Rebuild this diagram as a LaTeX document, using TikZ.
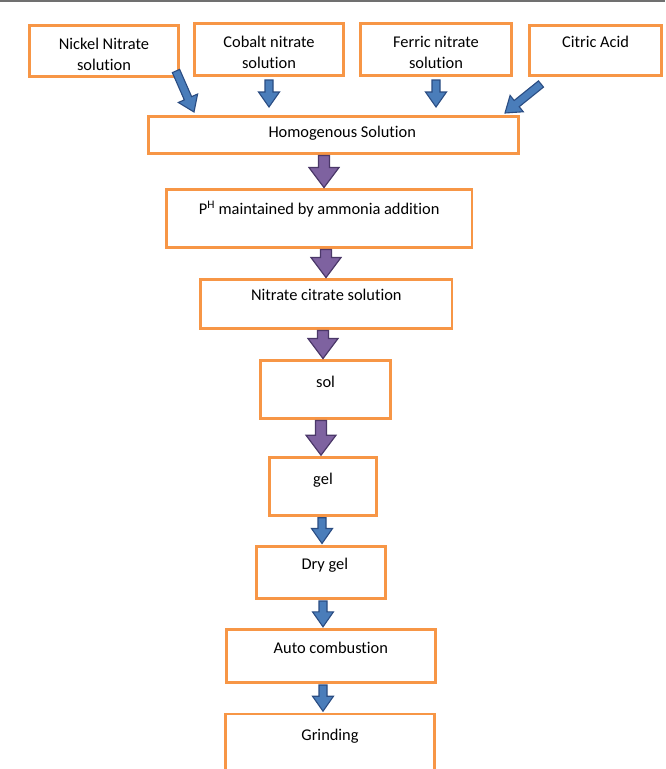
\documentclass[tikz,border=0pt]{standalone}
\usepackage{fontspec}
\setmainfont{Carlito}[Ligatures=NoCommon]
\usetikzlibrary{calc}

\tikzset{
  box/.style={draw=boxOrange, line width=2.6pt, fill=white, anchor=north,
    inner xsep=2pt, inner ysep=0pt, align=center,
    font=\fontsize{16.4}{21}\selectfont},
  gap start/.store in=\gapstart, gap start=0pt,
  gap end/.store in=\gapend, gap end=0pt,
  % block arrow: shaft half width, head half width, head length
  fatarrow/.style n args={3}{to path={
    let \p3=(\tikztostart), \p4=(\tikztotarget),
        \p1=($(\p3)!\gapstart!(\p4)$),
        \p2=($(\p4)!\gapend!(\p3)$),
        \n1={atan2(\y2-\y1,\x2-\x1)}, \n2={veclen(\x2-\x1,\y2-\y1)} in
    (\p1) -- ++(\n1+90:#1) -- ++(\n1:\n2-#3) -- ++(\n1+90:#2-#1) -- (\p2)
    -- ($(\p1)+(\n1:\n2-#3)+(\n1-90:#2)$) -- ++(\n1+90:#2-#1)
    -- ++(\n1+180:\n2-#3) -- cycle}},
  bluearrow/.style={fatarrow={4pt}{10.5pt}{15pt}, fill=arrowBlue,
    draw=arrowBlueDark, line width=1.1pt},
  purplearrow/.style={fatarrow={5.5pt}{15pt}{20pt}, fill=arrowPurple,
    draw=arrowPurpleDark, line width=1.2pt},
}

\begin{document}
\begin{tikzpicture}[x=1pt, y=-1pt]
    \definecolor{boxOrange}{HTML}{F79646}
    \definecolor{arrowBlue}{HTML}{4A7DBA}
    \definecolor{arrowBlueDark}{HTML}{2A4C82}
    \definecolor{arrowPurple}{HTML}{7E62A0}
    \definecolor{arrowPurpleDark}{HTML}{4B3869}
    \definecolor{topGrey}{HTML}{707070}

    \useasboundingbox (0,0) rectangle (665,769);
    \clip (0,0) rectangle (665,769);

    % Rule at the top of the page
    \draw[topGrey, line width=2pt] (0,1) -- (665,1);

    % Starting solutions
    \node[box, minimum width=149.4pt, text height=45.0pt, text depth=6.4pt] (nickel) at (104,24) {Nickel Nitrate\\solution};
    \node[box, minimum width=149.4pt, text height=45.0pt, text depth=7.1pt] (cobalt) at (269,22) {Cobalt nitrate\\solution};
    \node[box, minimum width=151.4pt, text height=45.0pt, text depth=7.1pt] (ferric) at (436,22) {Ferric nitrate\\solution};
    \node[box, minimum width=132.4pt, text height=22.0pt, text depth=28.1pt] (citric) at (595.5,24) {Citric Acid};

    % Process steps
    \node[box, minimum width=369.9pt, text height=21.4pt, text depth=16.0pt] (homo) at (333.25,115) {\hspace*{18pt}Homogenous Solution};
    \node[box, minimum width=305.7pt, text height=24.7pt, text depth=33.4pt] (ph) at (319.15,188.3) {P\textsuperscript{H} maintained by ammonia addition};
    \node[box, minimum width=251.4pt, text height=21.0pt, text depth=28.1pt] (nitrate) at (326.3,278.3) {Nitrate citrate solution};
    \node[box, minimum width=129.8pt, text height=26.7pt, text depth=31.4pt] (sol) at (325.5,359.3) {sol};
    \node[box, minimum width=106.8pt, text height=26.7pt, text depth=31.4pt] (gel) at (323,456) {gel};
    \node[box, minimum width=129.1pt, text height=23.0pt, text depth=29.4pt] (dry) at (320.85,545) {\hspace*{8pt}Dry gel};
    \node[box, minimum width=209.1pt, text height=23.7pt, text depth=29.4pt] (auto) at (330.85,628.3) {Auto combustion};
    \node[box, minimum width=209.4pt, text height=26.0pt, text depth=45pt] (grind) at (330,712.7) {Grinding};

    % Arrows into the homogenous solution
    \draw[bluearrow] ([xshift=-4pt,yshift=7pt]nickel.south east) to ([xshift=47pt,yshift=3pt]homo.north west);
    \draw[bluearrow, gap start=3.3pt, gap end=8pt] (cobalt.south) to (cobalt.south |- homo.north);
    \draw[bluearrow, gap start=3.3pt, gap end=8pt] (ferric.south) to (ferric.south |- homo.north);
    \draw[bluearrow] ([xshift=13pt,yshift=-7.3pt]citric.south west) to ([xshift=-14.5pt,yshift=2pt]homo.north east);

    % Arrows down the chain
    \foreach \a/\b/\col in {homo/ph/324, ph/nitrate/326, nitrate/sol/323, sol/gel/321}
        \draw[purplearrow, gap start=0.5pt, gap end=0.8pt] (\a.south -| \col,0) to (\b.north -| \col,0);
    \foreach \a/\b/\col in {gel/dry/322, dry/auto/323, auto/grind/323}
        \draw[bluearrow, gap start=1pt, gap end=1.5pt] (\a.south -| \col,0) to (\b.north -| \col,0);

\end{tikzpicture}
\end{document}
